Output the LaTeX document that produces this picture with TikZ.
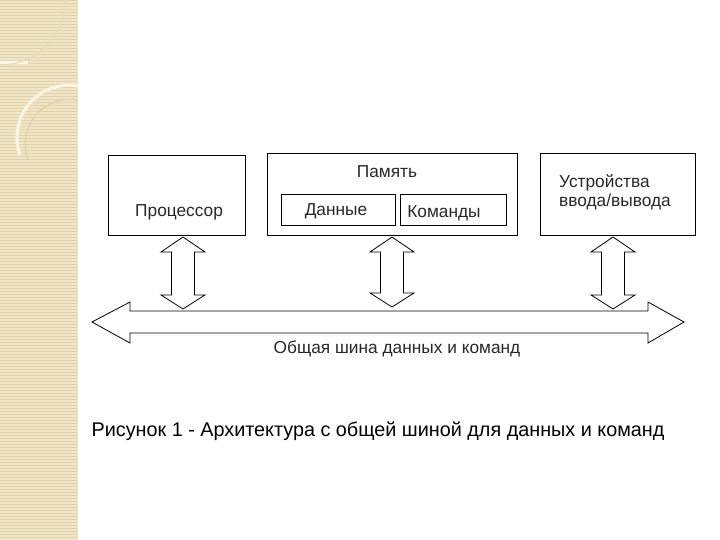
\documentclass[tikz,border=0pt]{standalone}
\usepackage{fontspec}
\setmainfont{Liberation Sans}
\definecolor{beige}{RGB}{240,230,198}
\definecolor{beigeline}{RGB}{226,212,170}
\definecolor{txt}{RGB}{40,40,40}
\begin{document}
\begin{tikzpicture}[x=1pt,y=-1pt,
  box/.style={draw,line width=0.8pt,inner sep=0pt},
  lbl/.style={font=\fontsize{17.3}{19.5}\selectfont,text=txt},
  dbl/.style={draw,line width=0.8pt,fill=white,line join=miter}]
\useasboundingbox (0,0) rectangle (720,540);
\fill[white] (0,0) rectangle (720,540);
% decorative strip
\fill[beige] (0,0) rectangle (78,540);
\foreach \y in {0,3,...,540} \draw[beigeline,line width=0.5pt] (0,\y) -- (78,\y);
\draw[white!70!beige,line width=3pt] (0,63) -- (28,63);
\draw[beigeline!80!white,line width=1.5pt] (65,0) arc (0:90:65);
\draw[white!60!beige,line width=3pt] (78,86) arc (-80:-200:52);
\draw[beigeline,line width=1.5pt] (78,100) arc (-80:-200:45);
% boxes
\node[box,minimum width=137,minimum height=80] (cpu) at (176.5,195) {};
\node[lbl,anchor=west,inner sep=0pt] (cpuT) at (135,212) {Процессор};
\node[box,minimum width=250,minimum height=82] (mem) at (392,194) {};
\node[lbl] (memT) at (387,172) {Память};
\node[box,minimum width=114,minimum height=31] (dat) at (338,209.5) {};
\node[lbl] (datT) at (336,211) {Данные};
\node[box,minimum width=106,minimum height=31] (cmd) at (453,209.5) {};
\node[lbl] (cmdT) at (444,213) {Команды};
\node[box,minimum width=155,minimum height=82] (io) at (617.5,194) {};
\node[lbl,align=left,anchor=north west,inner sep=0pt] (ioT) at (559,174) {Устройства\\ввода/вывода};
% vertical double arrows
\foreach \n/\x/\a/\b in {a1/183/237/309, a2/392/237/307, a3/613/237/309}{
  \draw[dbl] (\x,\a) -- (\x+22,\a+15) -- (\x+11.5,\a+15) -- (\x+11.5,\b-14) -- (\x+22,\b-14)
    -- (\x,\b) -- (\x-22,\b-14) -- (\x-11.5,\b-14) -- (\x-11.5,\a+15) -- (\x-22,\a+15) -- cycle;
}
% bus
\coordinate (busL) at (92,322);
\coordinate (busR) at (684,322);
\draw[dbl] (busL) -- (130,302) -- (130,311) -- (648,311) -- (648,302) -- (busR)
  -- (648,343) -- (648,333) -- (130,333) -- (130,343) -- cycle;
\node[lbl] (busT) at (397,349) {Общая шина данных и команд};
\node[font=\fontsize{19.8}{22}\selectfont] (cap) at (378,431) {Рисунок 1 - Архитектура с общей шиной для данных и команд};
\end{tikzpicture}
\end{document}
